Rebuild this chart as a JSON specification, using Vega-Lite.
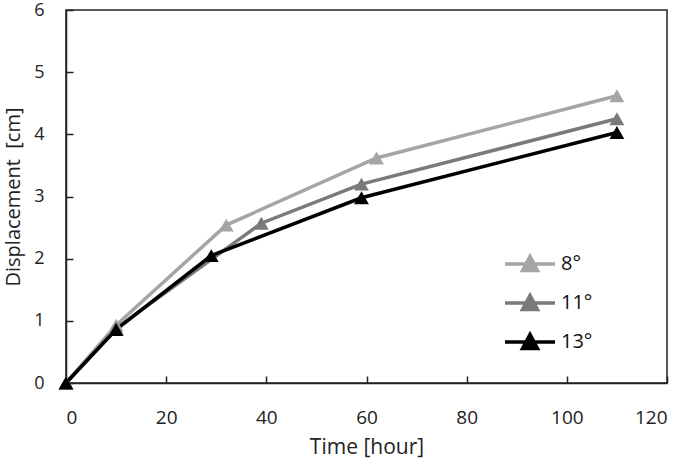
{
  "$schema": "https://vega.github.io/schema/vega-lite/v6.json",
  "width": 601,
  "height": 373,
  "autosize": {"type": "none"},
  "padding": {"left": 66, "top": 10, "right": 18, "bottom": 75},
  "background": "white",
  "config": {
    "font": "Open Sans",
    "view": {"stroke": "#222", "strokeWidth": 1.5},
    "axis": {
      "grid": false,
      "domainColor": "#222",
      "domainWidth": 1.5,
      "tickColor": "#222",
      "tickWidth": 1.5,
      "labelFont": "Open Sans",
      "labelFontSize": 18,
      "labelColor": "#222",
      "titleFont": "Open Sans",
      "titleFontSize": 20,
      "titleFontWeight": "normal",
      "titleColor": "#222"
    }
  },
  "data": {
    "values": [
      {"t": 0, "d": 0, "s": "8°"},
      {"t": 10, "d": 0.93, "s": "8°"},
      {"t": 32, "d": 2.54, "s": "8°"},
      {"t": 62, "d": 3.62, "s": "8°"},
      {"t": 110, "d": 4.62, "s": "8°"},
      {"t": 0, "d": 0, "s": "11°"},
      {"t": 10, "d": 0.88, "s": "11°"},
      {"t": 39, "d": 2.57, "s": "11°"},
      {"t": 59, "d": 3.2, "s": "11°"},
      {"t": 110, "d": 4.25, "s": "11°"},
      {"t": 0, "d": 0, "s": "13°"},
      {"t": 10, "d": 0.86, "s": "13°"},
      {"t": 29, "d": 2.05, "s": "13°"},
      {"t": 59, "d": 2.98, "s": "13°"},
      {"t": 110, "d": 4.03, "s": "13°"}
    ]
  },
  "encoding": {
    "x": {
      "field": "t", "type": "quantitative",
      "scale": {"domain": [0, 120], "nice": false},
      "axis": {"values": [0, 20, 40, 60, 80, 100, 120], "tickSize": -7, "labelPadding": 32, "labelFontSize": 19, "title": "Time [hour]", "titleFontSize": 21, "titlePadding": 9}
    },
    "y": {
      "field": "d", "type": "quantitative",
      "scale": {"domain": [0, 6], "nice": false},
      "axis": {"values": [0, 1, 2, 3, 4, 5, 6], "tickSize": -7, "labelPadding": 29, "title": "Displacement \u00a0[cm]", "titlePadding": 10}
    },
    "color": {
      "field": "s", "type": "nominal",
      "scale": {"domain": ["8°", "11°", "13°"], "range": ["#a5a5a5", "#7a7a7a", "#000000"]},
      "legend": {
        "title": null,
        "orient": "none",
        "legendX": 443,
        "legendY": 233,
        "symbolType": "M-1.316,0H1.316M-0.395,0.342L0,-0.395L0.395,0.342Z",
        "symbolSize": 1444,
        "symbolStrokeWidth": 3.5,
        "rowPadding": 4,
        "labelFontSize": 20,
        "labelFont": "Open Sans",
        "labelColor": "#111",
        "labelOffset": 10,
        "padding": 0,
        "encode": {
          "symbols": {
            "update": {
              "fill": {"scale": "color", "field": "value"},
              "stroke": {"scale": "color", "field": "value"},
              "opacity": {"value": 1},
              "strokeOpacity": {"value": 1},
              "fillOpacity": {"value": 1}
            }
          }
        }
      }
    },
    "order": {"field": "t", "type": "quantitative"}
  },
  "layer": [
    {"mark": {"type": "line", "strokeWidth": 3.5}},
    {"mark": {"type": "point", "shape": "triangle-up", "filled": true, "size": 220, "opacity": 1}}
  ]
}
